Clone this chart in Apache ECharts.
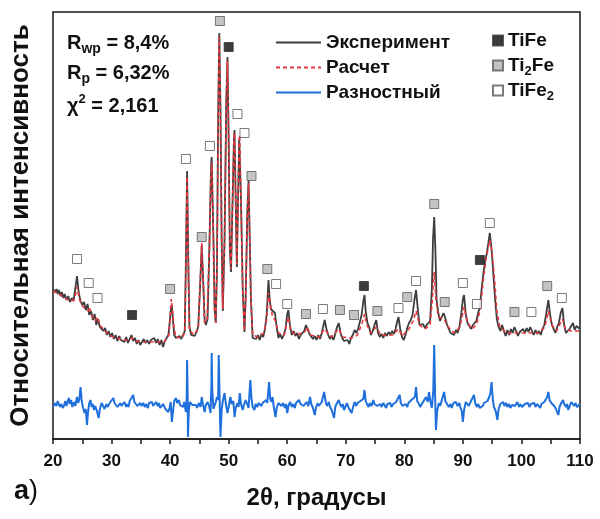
<!DOCTYPE html>
<html>
<head>
<meta charset="utf-8">
<script src="https://cdn.jsdelivr.net/npm/echarts@6/dist/echarts.min.js"></script>
<style>
  html, body { margin: 0; padding: 0; background: #fff; }
  #chart { width: 600px; height: 519px; }
</style>
</head>
<body>
<div id="chart"></div>
<script>
// X-ray diffraction pattern: measured profile, Rietveld fit and their difference.
// Angles in degrees 2θ, intensities in relative units.

const xTicks = [20, 30, 40, 50, 60, 70, 80, 90, 100, 110];

// Measured profile [2θ, I]
const experiment = [
  [20.0,150],[20.2,152],[20.4,147],[20.6,150],[20.8,145],[21.0,149],[21.3,143],[21.5,147],[21.8,141],[22.0,145],
  [22.3,139],[22.6,143],[22.9,137],[23.2,141],[23.5,138],[23.8,150],[24.1,163],[24.4,146],[24.7,138],[25.0,134],
  [25.3,137],[25.6,129],[25.9,135],[26.2,124],[26.5,128],[26.8,119],[27.1,125],[27.4,114],[27.7,120],[28.0,112],
  [28.3,114],[28.6,108],[28.9,111],[29.2,104],[29.5,108],[29.8,102],[30.1,106],[30.4,100],[30.7,104],[31.0,98],
  [31.3,103],[31.6,99],[31.9,101],[32.2,97],[32.5,102],[32.8,96],[33.1,100],[33.4,104],[33.7,98],[34.0,101],
  [34.3,95],[34.6,99],[34.9,94],[35.2,97],[35.5,100],[35.8,96],[36.1,99],[36.4,95],[36.7,99],[37.0,97],
  [37.3,101],[37.6,96],[37.9,100],[38.2,94],[38.5,99],[38.8,92],[39.1,98],[39.4,96],[39.7,104],[39.9,115],
  [40.1,128],[40.3,134],[40.5,118],[40.7,104],[41.0,101],[41.3,99],[41.6,103],[41.9,100],[42.2,102],[42.5,108],
  [42.7,180],[42.9,268],[43.1,180],[43.3,112],[43.6,104],[43.9,106],[44.2,103],[44.5,107],[44.8,112],[45.1,150],
  [45.4,194],[45.7,150],[45.9,118],[46.1,114],[46.4,120],[46.7,190],[47.0,275],[47.1,282],[47.4,200],[47.6,130],
  [47.8,116],[48.0,170],[48.2,320],[48.4,406],[48.6,330],[48.8,200],[49.0,128],[49.1,126],[49.3,200],[49.6,340],
  [49.8,382],[50.0,300],[50.2,190],[50.4,167],[50.6,220],[50.9,300],[51.0,309],[51.2,240],[51.4,172],[51.6,240],
  [51.8,300],[51.9,302],[52.1,240],[52.4,150],[52.7,107],[52.9,140],[53.2,230],[53.4,259],[53.6,200],[53.8,140],
  [54.1,101],[54.4,103],[54.7,100],[55.0,104],[55.3,99],[55.6,105],[55.9,102],[56.2,110],[56.5,125],[56.8,159],
  [57.0,140],[57.2,130],[57.5,128],[57.9,126],[58.2,112],[58.5,101],[58.8,105],[59.1,100],[59.4,104],[59.7,110],
  [60.0,125],[60.2,129],[60.5,112],[60.8,104],[61.1,108],[61.4,103],[61.7,106],[62.0,100],[62.3,104],[62.6,102],
  [62.9,108],[63.2,114],[63.5,116],[63.8,105],[64.1,104],[64.4,100],[64.7,103],[65.0,99],[65.3,104],[65.6,100],
  [65.9,106],[66.2,114],[66.4,119],[66.7,110],[67.0,104],[67.3,100],[67.6,103],[67.9,99],[68.2,105],[68.5,112],
  [68.8,116],[69.1,106],[69.4,101],[69.7,98],[70.0,96],[70.3,99],[70.6,95],[70.9,101],[71.2,104],[71.5,109],
  [71.8,106],[72.1,110],[72.4,112],[72.7,124],[73.0,138],[73.2,144],[73.4,128],[73.7,116],[74.0,112],[74.3,104],
  [74.6,108],[74.9,114],[75.2,119],[75.5,106],[75.8,102],[76.1,105],[76.4,101],[76.7,106],[77.0,103],[77.3,107],
  [77.6,104],[77.9,108],[78.2,105],[78.5,110],[78.8,118],[79.0,122],[79.3,110],[79.6,102],[79.9,99],[80.2,104],
  [80.5,111],[80.8,116],[81.1,119],[81.4,124],[81.7,138],[82.0,149],[82.3,130],[82.6,114],[82.9,112],[83.2,115],
  [83.5,111],[83.8,114],[84.1,112],[84.4,118],[84.7,150],[84.9,200],[85.1,222],[85.3,190],[85.5,140],[85.8,126],
  [86.1,118],[86.4,120],[86.7,126],[87.0,121],[87.3,114],[87.6,110],[87.9,106],[88.2,108],[88.5,104],[88.8,109],
  [89.1,106],[89.4,112],[89.7,124],[90.0,140],[90.2,144],[90.5,124],[90.8,116],[91.1,113],[91.4,110],[91.7,114],
  [92.0,112],[92.3,118],[92.6,126],[92.9,132],[93.2,150],[93.5,166],[93.8,178],[94.1,186],[94.4,198],[94.6,206],
  [94.9,190],[95.2,165],[95.5,140],[95.8,120],[96.1,112],[96.4,108],[96.7,114],[97.0,108],[97.3,103],[97.6,109],
  [97.9,104],[98.2,110],[98.5,106],[98.8,112],[99.1,108],[99.4,103],[99.7,107],[100.0,105],[100.3,110],[100.6,106],
  [100.9,111],[101.2,107],[101.5,112],[101.8,108],[102.1,104],[102.4,109],[102.7,105],[103.0,108],[103.3,104],[103.6,110],
  [103.9,114],[104.2,124],[104.6,139],[104.9,124],[105.2,114],[105.5,110],[105.8,106],[106.1,112],[106.4,116],[106.7,126],
  [107.0,131],[107.3,114],[107.6,106],[107.9,105],[108.2,110],[108.5,112],[108.8,116],[109.1,109],[109.4,113],[109.7,111],
  [110.0,110]
];

// Calculated (fitted) profile [2θ, I]
const calculated = [
  [20.0,148],[21.0,145],[22.0,141],[23.0,138],[23.7,140],[24.1,152],[24.5,140],[25.0,133],[26.0,128],[26.2,132],
  [26.6,124],[27.2,118],[27.6,122],[28.0,114],[29.0,107],[30.0,103],[31.0,101],[32.0,99],[33.0,99],[33.5,101],
  [34.0,98],[35.0,97],[36.0,97],[37.0,97],[38.0,97],[39.0,97],[39.8,104],[40.0,120],[40.2,140],[40.4,138],
  [40.7,110],[41.0,102],[42.0,101],[42.5,106],[42.7,170],[42.9,262],[43.1,175],[43.3,110],[44.0,104],[44.8,110],
  [45.1,150],[45.4,196],[45.7,150],[45.9,116],[46.3,118],[46.7,190],[47.0,270],[47.1,276],[47.4,200],[47.6,128],
  [47.8,116],[48.0,170],[48.2,318],[48.4,402],[48.6,328],[48.8,200],[49.0,130],[49.1,130],[49.3,200],[49.6,340],
  [49.8,378],[50.0,300],[50.2,190],[50.4,170],[50.6,220],[50.9,300],[51.0,306],[51.2,240],[51.4,175],[51.6,240],
  [51.8,300],[51.9,304],[52.1,240],[52.4,150],[52.7,108],[52.9,140],[53.2,230],[53.4,256],[53.6,200],[53.8,140],
  [54.1,104],[55.0,102],[56.0,106],[56.5,120],[56.8,146],[57.1,136],[57.5,122],[58.0,118],[58.5,106],[59.5,104],
  [60.0,118],[60.2,122],[60.6,108],[61.5,104],[63.0,107],[63.4,112],[64.0,104],[65.5,102],[66.3,110],[66.6,108],
  [67.5,102],[68.8,110],[69.5,102],[71.0,101],[72.0,104],[72.8,116],[73.2,125],[73.6,114],[74.3,106],[75.2,112],
  [76.0,104],[78.0,104],[79.0,110],[79.6,103],[80.8,110],[81.5,118],[82.0,128],[82.6,114],[83.5,110],[84.4,114],
  [84.8,140],[85.1,167],[85.4,140],[85.8,122],[86.8,120],[87.5,112],[88.5,106],[89.5,112],[90.2,132],[90.7,118],
  [91.5,110],[92.3,114],[93.0,130],[93.5,160],[94.0,182],[94.6,199],[95.0,186],[95.4,160],[95.8,128],[96.3,112],
  [97.5,106],[99.0,106],[101.0,106],[103.0,106],[104.0,112],[104.6,128],[105.2,114],[106.0,108],[107.0,120],[107.5,110],
  [108.5,108],[110.0,108]
];

// Difference (measured − calculated), drawn shifted down by diffOffset
const diffOffset = 34;
const difference = [
  [20.0,-2],[20.2,-3],[20.4,2],[20.6,-1],[20.8,4],[21.0,3],[21.2,-2],[21.4,1],[21.7,-3],[21.9,0],[22.1,4],[22.3,-1],
  [22.5,3],[22.7,7],[22.9,1],[23.1,5],[23.3,-2],[23.6,3],[23.8,-1],[24.1,8],[24.3,2],[24.5,6],[24.7,18],[24.9,4],
  [25.1,-2],[25.4,-8],[25.6,-4],[25.8,-20],[26.0,-6],[26.2,2],[26.4,5],[26.6,-2],[26.8,1],[27.0,-5],[27.2,-1],[27.5,-6],
  [27.8,-13],[28.0,-4],[28.3,2],[28.6,0],[28.8,-4],[29.1,1],[29.3,-2],[29.5,-3],[29.8,3],[30.0,1],[30.3,7],[30.5,2],
  [30.8,4],[31.0,-2],[31.2,-3],[31.5,2],[31.7,-1],[32.0,0],[32.2,3],[32.5,-2],[32.7,1],[32.9,-2],[33.1,4],[33.4,2],
  [33.7,10],[33.9,3],[34.1,5],[34.4,-1],[34.6,-2],[34.9,2],[35.1,-1],[35.4,2],[35.7,-2],[35.9,1],[36.2,-3],[36.4,2],
  [36.6,0],[36.9,3],[37.1,-1],[37.4,1],[37.6,3],[37.9,-1],[38.1,2],[38.3,-3],[38.5,-2],[38.8,1],[39.0,-1],[39.2,-4],
  [39.5,-2],[39.7,-7],[39.9,-3],[40.1,3],[40.3,-17],[40.5,-6],[40.7,4],[41.0,7],[41.2,2],[41.5,5],[41.7,0],[41.9,2],
  [42.2,-2],[42.4,3],[42.7,-7],[42.85,10],[42.9,45],[43.0,10],[43.05,-32],[43.2,-5],[43.4,3],[43.6,5],[43.8,0],[44.1,2],
  [44.4,0],[44.6,-3],[44.9,2],[45.2,-2],[45.4,8],[45.6,1],[45.9,-7],[46.1,0],[46.4,3],[46.7,-2],[46.9,-8],[47.05,20],
  [47.1,52],[47.2,15],[47.4,-4],[47.6,-2],[47.8,3],[48.0,8],[48.2,5],[48.3,50],[48.45,10],[48.6,-32],[48.8,-5],[49.0,4],
  [49.3,12],[49.5,2],[49.8,-8],[50.0,-2],[50.3,8],[50.5,1],[50.8,4],[51.0,-12],[51.2,-3],[51.5,2],[51.7,-2],[51.9,12],
  [52.1,1],[52.4,-5],[52.6,0],[52.9,5],[53.1,2],[53.4,-3],[53.7,25],[53.9,6],[54.1,-2],[54.4,-5],[54.6,1],[54.9,-2],
  [55.1,2],[55.3,3],[55.6,-1],[55.8,2],[56.1,0],[56.4,5],[56.6,2],[56.9,23],[57.1,6],[57.3,3],[57.5,8],[57.7,-2],
  [58.0,-12],[58.2,-3],[58.5,2],[58.8,3],[59.0,-1],[59.3,2],[59.6,-3],[59.8,1],[60.0,-8],[60.2,-1],[60.5,3],[60.8,-2],
  [61.0,1],[61.3,-3],[61.5,2],[61.8,0],[62.0,5],[62.3,1],[62.5,3],[62.8,-1],[63.1,0],[63.3,3],[63.6,-1],[63.9,8],
  [64.1,1],[64.4,-3],[64.7,-10],[64.9,-3],[65.2,2],[65.4,-1],[65.6,-2],[65.9,3],[66.1,5],[66.3,13],[66.6,2],[66.8,-1],
  [67.1,3],[67.3,-2],[67.6,-5],[68.0,-13],[68.2,-2],[68.5,2],[68.8,5],[69.0,1],[69.3,-2],[69.5,1],[69.7,-5],[70.0,-1],
  [70.2,2],[70.5,-3],[70.8,-2],[71.0,-8],[71.3,-1],[71.5,3],[71.8,-1],[72.0,2],[72.2,0],[72.5,4],[72.8,3],[73.0,6],
  [73.2,15],[73.4,4],[73.6,1],[73.9,-2],[74.1,2],[74.4,-1],[74.7,5],[74.9,1],[75.2,3],[75.4,-1],[75.6,-3],[75.9,1],
  [76.1,-2],[76.4,2],[76.6,0],[76.9,-3],[77.1,1],[77.3,-1],[77.6,2],[77.8,-2],[78.1,1],[78.3,-1],[78.6,3],[78.9,4],
  [79.2,10],[79.4,2],[79.7,-1],[80.0,-3],[80.2,1],[80.5,-2],[80.7,2],[81.0,1],[81.2,5],[81.5,3],[81.8,8],[82.0,18],
  [82.2,4],[82.5,1],[82.7,-2],[82.9,0],[83.2,3],[83.5,1],[83.7,8],[84.0,3],[84.2,13],[84.5,2],[84.7,-3],[84.95,15],
  [85.1,60],[85.25,10],[85.4,-25],[85.6,-6],[85.9,2],[86.1,-1],[86.3,3],[86.6,5],[86.8,13],[87.0,4],[87.3,1],[87.6,-2],
  [87.9,1],[88.1,-3],[88.4,2],[88.6,0],[88.8,3],[89.1,-1],[89.4,2],[89.6,-3],[89.8,-6],[90.0,-17],[90.2,-5],[90.5,3],
  [90.8,2],[91.0,-1],[91.3,3],[91.6,5],[91.9,10],[92.1,2],[92.4,-2],[92.6,1],[92.9,-3],[93.1,-5],[93.4,-1],[93.6,2],
  [93.9,0],[94.2,4],[94.5,8],[94.7,12],[94.9,23],[95.1,6],[95.3,-2],[95.6,-6],[95.9,-15],[96.1,-4],[96.4,1],[96.6,-1],
  [96.9,3],[97.1,-1],[97.4,2],[97.6,-2],[97.9,1],[98.1,-3],[98.4,0],[98.6,2],[98.9,-1],[99.1,1],[99.3,3],[99.6,-2],
  [99.8,1],[100.1,-2],[100.3,-3],[100.6,1],[100.8,-1],[101.1,2],[101.4,-2],[101.6,1],[101.9,0],[102.2,2],[102.4,-2],[102.7,1],
  [102.9,-1],[103.2,-3],[103.4,1],[103.7,-1],[103.9,3],[104.2,5],[104.4,8],[104.6,13],[104.8,5],[105.1,2],[105.4,3],[105.6,-1],
  [105.9,-4],[106.1,-3],[106.3,-10],[106.5,-2],[106.8,2],[107.1,5],[107.3,1],[107.6,-2],[107.8,1],[108.0,-5],[108.3,0],[108.5,3],
  [108.8,5],[109.0,-1],[109.2,2],[109.5,-2],[109.7,0],[110.0,1]
];

// Phase reflection markers [2θ, marker height]
const tiFeMarks = [[33.5,124],[50.0,392],[73.1,153],[92.9,179]];
const ti2FeMarks = [
  [40.0,150],[45.4,202],[48.5,418],[53.9,263],[56.6,170],[63.2,125],[69.0,129],[71.4,124],
  [75.4,128],[80.5,142],[85.1,235],[86.9,137],[98.8,127],[104.4,153]
];
const tiFe2Marks = [
  [24.1,180],[26.1,156],[27.6,141],[42.7,280],[46.8,293],[51.5,325],[52.7,306],[58.1,155],[60.0,135],
  [66.1,130],[79.0,131],[82.0,158],[90.0,156],[92.4,135],[94.6,216],[101.7,127],[106.9,141]
];

const lineNames = ['Эксперимент', 'Расчет', 'Разностный'];
const phaseNames = ['TiFe', 'Ti2Fe', 'TiFe2'];
const statsLines = ['{b|R}{s|wp}{b| = 8,4%}', '{b|R}{s|p}{b| = 6,32%}', '{b|χ}{u|2}{b| = 2,161}'];

const FONT = '"Liberation Sans", Arial, sans-serif';
const INK = '#111';

const chart = echarts.init(document.getElementById('chart'), null, { renderer: 'canvas' });

const subRich = {
  a: { fontFamily: FONT, fontWeight: 'bold', fontSize: 19, color: INK, lineHeight: 25, verticalAlign: 'middle' },
  s: { fontFamily: FONT, fontWeight: 'bold', fontSize: 13, color: INK, lineHeight: 13, verticalAlign: 'bottom' }
};

function phaseLabel(name) {
  return name.replace(/([A-Za-z]+)|(\d+)/g, (m, w, d) => w ? '{a|' + w + '}' : '{s|' + d + '}');
}

const option = {
  animation: false,
  backgroundColor: '#fff',
  grid: {
    left: 49, right: 20, top: 12, bottom: 80,
    show: true, borderColor: '#1a1a1a', borderWidth: 1.5, backgroundColor: 'transparent'
  },
  xAxis: {
    type: 'value', min: 20, max: 110, interval: 5,
    name: '2θ, градусы', nameLocation: 'middle', nameGap: 47,
    nameTextStyle: { fontFamily: FONT, fontWeight: 'bold', fontSize: 24, color: INK },
    axisLine: { show: true, lineStyle: { color: '#1a1a1a', width: 1.5 } },
    axisTick: { show: true, length: 5, lineStyle: { color: '#1a1a1a', width: 1.5 } },
    axisLabel: {
      margin: 14, fontFamily: FONT, fontWeight: 'bold', fontSize: 17, color: INK,
      formatter: v => xTicks.indexOf(v) >= 0 ? String(v) : ''
    },
    splitLine: { show: false }
  },
  yAxis: {
    type: 'value', min: 0, max: 427,
    name: 'Относительная интенсивность', nameLocation: 'middle', nameGap: 19,
    nameTextStyle: { fontFamily: FONT, fontWeight: 'bold', fontSize: 26, color: INK },
    axisLine: { show: false }, axisTick: { show: false }, axisLabel: { show: false },
    splitLine: { show: false }
  },
  legend: [
    {
      data: lineNames, orient: 'vertical', left: 270, top: 25,
      itemWidth: 45, itemHeight: 14, itemGap: 0, itemStyle: { opacity: 0 },
      textStyle: { fontFamily: FONT, fontWeight: 'bold', fontSize: 19, color: INK, lineHeight: 25 },
      selectedMode: false
    },
    {
      data: phaseNames, orient: 'vertical', left: 487, top: 23,
      itemWidth: 10, itemHeight: 10, itemGap: 0, icon: 'rect',
      formatter: phaseLabel,
      textStyle: { rich: subRich, lineHeight: 25 },
      selectedMode: false
    }
  ],
  graphic: [
    ...statsLines.map((t, i) => ({
      type: 'text', left: 67, top: 33 + i * 30, z: 10,
      style: {
        text: t,
        rich: {
          b: { fontFamily: FONT, fontWeight: 'bold', fontSize: 20, fill: INK, lineHeight: 26, verticalAlign: 'middle' },
          s: { fontFamily: FONT, fontWeight: 'bold', fontSize: 14, fill: INK, lineHeight: 14, verticalAlign: 'bottom' },
          u: { fontFamily: FONT, fontWeight: 'bold', fontSize: 13, fill: INK, lineHeight: 13, verticalAlign: 'top' }
        }
      }
    })),
    {
      type: 'text', left: 14, top: 478, z: 10,
      style: {
        text: '{b|а}{n|)}',
        rich: {
          b: { fontFamily: FONT, fontWeight: 'bold', fontSize: 27, fill: INK },
          n: { fontFamily: FONT, fontSize: 27, fill: INK }
        }
      }
    }
  ],
  series: [
    {
      name: lineNames[0], type: 'line', data: experiment, symbol: 'none',
      lineStyle: { color: '#3d3d3d', width: 1.8 }, itemStyle: { color: '#3d3d3d' }, z: 2
    },
    {
      name: lineNames[1], type: 'line', data: calculated, symbol: 'none',
      lineStyle: { color: '#e8383d', width: 1.6, type: [4, 3] }, itemStyle: { color: '#e8383d' }, z: 3
    },
    {
      name: lineNames[2], type: 'line', symbol: 'none',
      data: difference.map(p => [p[0], p[1] + diffOffset]),
      lineStyle: { color: '#1f6fdc', width: 2 }, itemStyle: { color: '#1f6fdc' }, z: 2
    },
    {
      name: phaseNames[0], type: 'scatter', data: tiFeMarks, symbol: 'rect', symbolSize: 9,
      itemStyle: { color: '#0a0a0a', borderColor: '#333', borderWidth: 1 }, z: 5
    },
    {
      name: phaseNames[1], type: 'scatter', data: ti2FeMarks, symbol: 'rect', symbolSize: 9,
      itemStyle: { color: '#b5b5b5', borderColor: '#5a5a5a', borderWidth: 1 }, z: 5
    },
    {
      name: phaseNames[2], type: 'scatter', data: tiFe2Marks, symbol: 'rect', symbolSize: 9,
      itemStyle: { color: '#ffffff', borderColor: '#5a5a5a', borderWidth: 1 }, z: 5
    }
  ]
};

chart.setOption(option);
</script>
</body>
</html>
